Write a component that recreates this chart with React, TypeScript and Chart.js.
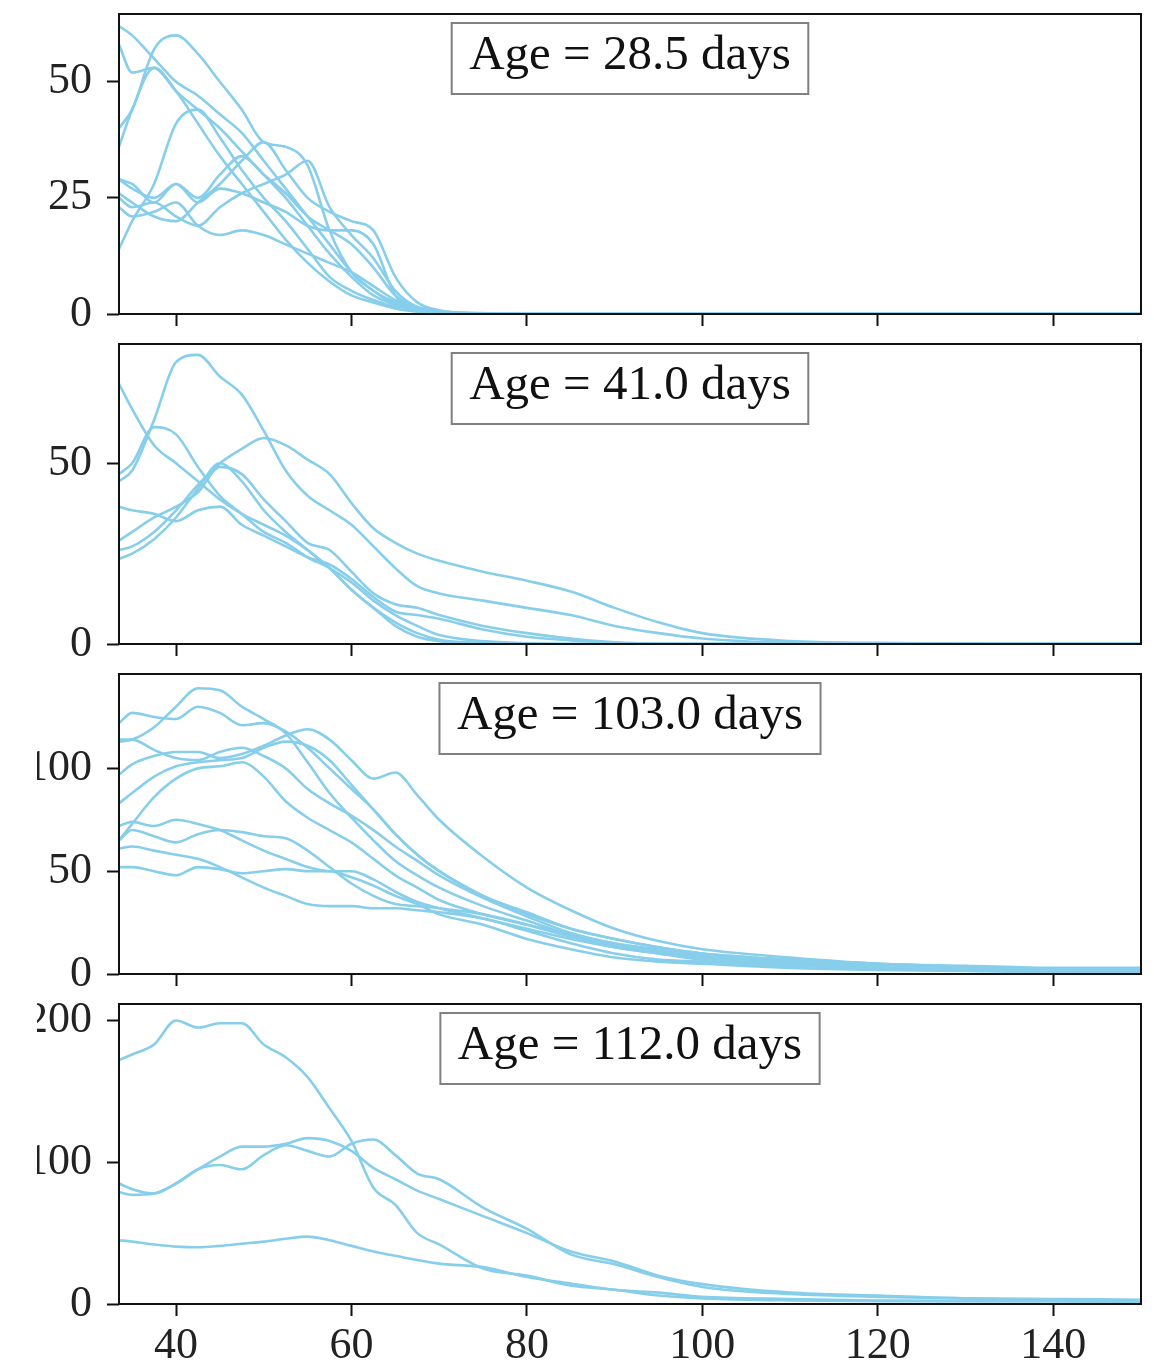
import React, { useEffect, useRef } from "react";
import { Chart, registerables } from "chart.js";

Chart.register(...registerables);

// ---------- data ----------
const X_GRID = [33.5, 35, 37.5, 40, 42.5, 45, 47.5, 50, 52.5, 55, 57.5, 60, 62.5, 65, 67.5, 70, 75, 80, 85, 90, 95, 100, 110, 120, 130, 140, 150];
const X_TICKS = [40, 60, 80, 100, 120, 140];
const X_MIN = 33.5;
const X_MAX = 150;

const AGE_LABELS = ["Age = 28.5 days", "Age = 41.0 days", "Age = 103.0 days", "Age = 112.0 days"];
const Y_MAXES = [64.6, 83, 145.9, 211.6];
const Y_TICKS_A = [0, 25, 50];
const Y_TICKS_B = [0, 50];
const Y_TICKS_C = [0, 50, 100];
const Y_TICKS_D = [0, 100, 200];

// Age = 28.5 days
const P1_A = [62, 60, 55, 50, 47, 43, 39, 33, 27, 21, 15, 9, 5, 2.5, 1, 0.5, 0.1, 0, 0, 0, 0, 0, 0, 0, 0, 0, 0];
const P1_B = [58, 52, 53, 48, 44, 40, 35, 30, 25, 19, 13, 8, 4, 2, 1, 0.3, 0.1, 0, 0, 0, 0, 0, 0, 0, 0, 0, 0];
const P1_C = [40, 44, 57, 60, 56, 50, 44, 37, 36, 32, 18, 9, 5, 2, 1, 0.3, 0, 0, 0, 0, 0, 0, 0, 0, 0, 0, 0];
const P1_D = [36, 44, 53, 48, 41, 34, 28, 22, 16, 11, 7, 4, 2.5, 1.2, 0.5, 0.2, 0, 0, 0, 0, 0, 0, 0, 0, 0, 0, 0];
const P1_E = [14, 20, 28, 41, 44, 38, 31, 25, 20, 14, 8, 5, 3, 1.5, 0.6, 0.2, 0, 0, 0, 0, 0, 0, 0, 0, 0, 0, 0];
const P1_F = [29, 28, 24, 28, 24, 27, 26, 24, 22, 19, 18, 18, 15, 4, 1, 0.4, 0, 0, 0, 0, 0, 0, 0, 0, 0, 0, 0];
const P1_G = [26, 24, 21, 20, 24, 28, 33, 37, 31, 25, 22, 20, 18, 8, 2.5, 0.8, 0.1, 0, 0, 0, 0, 0, 0, 0, 0, 0, 0];
const P1_H = [25, 23, 24, 21, 19, 23, 26, 28, 30, 33, 23, 17, 12, 5, 1.5, 0.5, 0, 0, 0, 0, 0, 0, 0, 0, 0, 0, 0];
const P1_I = [23, 21, 22, 24, 19, 17, 18, 17, 15, 13, 11, 9, 6, 3, 1.2, 0.4, 0, 0, 0, 0, 0, 0, 0, 0, 0, 0, 0];
const P1_J = [29, 27, 25, 28, 25, 30, 34, 30, 26, 21, 18, 15, 10, 4, 1.5, 0.6, 0.2, 0, 0, 0, 0, 0, 0, 0, 0, 0, 0];

// Age = 41.0 days
const P2_A = [45, 48, 62, 78, 80, 74, 69, 59, 48, 41, 37, 33, 27, 21, 16, 14, 12, 10, 8, 5, 3, 1.5, 0.3, 0.1, 0, 0, 0];
const P2_B = [26, 27, 31, 37, 44, 50, 54, 57, 55, 51, 47, 39, 32, 28, 25, 23, 20, 17.5, 14.5, 10, 6, 3, 0.8, 0.3, 0.1, 0, 0];
const P2_C = [23.6, 25, 29, 35, 43, 50, 45, 37, 31, 26, 21, 15, 10, 5, 2, 0.8, 0.2, 0, 0, 0, 0, 0, 0, 0, 0, 0, 0];
const P2_D = [28.6, 31, 35, 38, 42, 49, 47, 40, 34, 28, 26, 20, 14, 11, 10, 8, 5, 3, 1.5, 0.5, 0.1, 0, 0, 0, 0, 0, 0];
const P2_E = [72, 65, 55, 50, 45, 40, 36, 33, 30, 26, 21, 15, 10, 6, 3, 1.2, 0.3, 0, 0, 0, 0, 0, 0, 0, 0, 0, 0];
const P2_F = [47, 50, 60, 58, 49, 41, 36, 31, 28, 24, 21, 17, 12, 8, 5, 2.5, 0.8, 0.2, 0, 0, 0, 0, 0, 0, 0, 0, 0];
const P2_G = [38, 37, 36, 34, 37, 38, 33, 30, 27, 24, 22, 18, 13, 9, 8, 7, 4, 2, 1, 0.3, 0, 0, 0, 0, 0, 0, 0];

// Age = 103.0 days
const P3_A = [113, 114, 120, 130, 139, 138, 130, 124, 117, 103, 88, 76, 65, 55, 48, 42, 33, 26, 19, 14, 11, 9, 6, 4, 3, 2, 2];
const P3_B = [122, 127, 125, 124, 130, 127, 121, 122, 118, 110, 100, 90, 80, 68, 58, 50, 38, 30, 22, 17, 13, 10, 7, 5, 3.5, 2.5, 2.5];
const P3_C = [97, 102, 106, 108, 108, 105, 107, 111, 116, 119, 114, 104, 95, 98, 87, 75, 57, 42, 31, 22, 16, 12, 8, 5, 4, 3, 3];
const P3_D = [114, 114, 109, 105, 104, 108, 110, 106, 100, 90, 83, 77, 70, 62, 55, 48, 37, 28, 20, 15, 12, 9, 6, 4, 3, 2, 2];
const P3_E = [83, 88, 96, 101, 103, 104, 105, 110, 113, 111, 104, 92, 80, 68, 58, 50, 38, 29, 22, 17, 13, 10, 7, 5, 3.5, 2.5, 2.5];
const P3_F = [65, 73, 86, 95, 100, 101, 103, 96, 84, 76, 70, 64, 56, 48, 42, 36, 29, 24, 19, 14, 11, 8, 5, 3.5, 2.5, 2, 2];
const P3_G = [72, 74, 72, 75, 73, 70, 65, 60, 56, 52, 50, 50, 46, 40, 35, 32, 27, 22, 17, 13, 10, 8, 5, 3.5, 2.5, 2, 2];
const P3_H = [65, 70, 67, 64, 68, 70, 69, 67, 66, 60, 52, 44, 38, 34, 33, 32, 29, 24, 18, 13, 10, 7, 5, 3, 2.5, 2, 2];
const P3_I = [61, 62, 60, 58, 56, 52, 47, 42, 38, 34, 33, 33, 32, 32, 31, 30, 27, 21, 15, 10, 7, 6, 4, 3, 2, 1.5, 1.5];
const P3_J = [52, 52, 50, 48, 52, 51, 49, 50, 51, 50, 50, 47, 43, 38, 34, 29, 24, 17, 12, 8, 6, 5, 3, 2, 1.5, 1, 1];

// Age = 112.0 days
const P4_A = [172, 176, 183, 200, 195, 198, 198, 183, 174, 160, 138, 115, 82, 70, 50, 42, 25, 20, 13, 10, 6, 4, 2.5, 2, 2, 2, 1.5];
const P4_B = [85, 81, 78, 85, 95, 104, 111, 111, 113, 117, 115, 108, 96, 88, 80, 74, 62, 50, 37, 30, 20, 14, 8, 6, 4, 3.5, 3];
const P4_C = [79, 77, 78, 85, 95, 98, 95, 105, 112, 108, 104, 113, 116, 105, 92, 88, 68, 53, 35, 28, 19, 12, 7, 5, 4, 3, 2.5];
const P4_D = [45, 44, 42, 40.5, 40, 41, 42.5, 44, 46, 47.5, 45, 41, 37, 34, 31, 28.5, 26, 19, 14.5, 10, 8, 5, 3.5, 2.5, 2, 2, 1.5];

const PANELS = [
  { label: AGE_LABELS[0], yMax: Y_MAXES[0], yTicks: Y_TICKS_A, series: [P1_A, P1_B, P1_C, P1_D, P1_E, P1_F, P1_G, P1_H, P1_I, P1_J] },
  { label: AGE_LABELS[1], yMax: Y_MAXES[1], yTicks: Y_TICKS_B, series: [P2_A, P2_B, P2_C, P2_D, P2_E, P2_F, P2_G] },
  { label: AGE_LABELS[2], yMax: Y_MAXES[2], yTicks: Y_TICKS_C, series: [P3_A, P3_B, P3_C, P3_D, P3_E, P3_F, P3_G, P3_H, P3_I, P3_J] },
  { label: AGE_LABELS[3], yMax: Y_MAXES[3], yTicks: Y_TICKS_D, series: [P4_A, P4_B, P4_C, P4_D] },
];

// ---------- layout / style ----------
const PAGE_W = 1154;
const PAGE_H = 1372;
const CLIP_LEFT = 37;
const CANVAS_W = PAGE_W - CLIP_LEFT;
const PANEL_TOPS = [14, 344, 674, 1004];
const PLOT_H = 300;
const PAD_TOP = 10;
const YAXIS_W = 82;
const PAD_RIGHT = 13;
const XAXIS_H_INNER = 24;
const FONT_FAMILY = "'Liberation Serif', 'Times New Roman', serif";
const TICK_FONT_PX = 44;
const LEGEND_FONT_PX = 49;
const BOX_PAD_X = 17.5;
const BOX_H = 71;
const BOX_OFFSET_Y = 9;
const BOX_BASELINE = 46;
const LINE_COLOR = "rgb(135, 206, 235)";
const AXIS_COLOR = "#111111";
const TEXT_COLOR = "#222222";

const panelDecor = {
  id: "panelDecor",
  afterDraw(chart: any, _args: any, opts: any) {
    const { ctx, chartArea: a } = chart;
    ctx.save();
    ctx.strokeStyle = AXIS_COLOR;
    ctx.lineWidth = 2;
    ctx.strokeRect(a.left, a.top, a.right - a.left, a.bottom - a.top);
    ctx.font = `${LEGEND_FONT_PX}px ${FONT_FAMILY}`;
    const text = opts.text as string;
    const w = ctx.measureText(text).width;
    const bw = w + 2 * BOX_PAD_X;
    const cx = (a.left + a.right) / 2;
    const bx = cx - bw / 2;
    const by = a.top + BOX_OFFSET_Y;
    ctx.fillStyle = "#ffffff";
    ctx.fillRect(bx, by, bw, BOX_H);
    ctx.strokeStyle = "#808080";
    ctx.lineWidth = 2;
    ctx.strokeRect(bx, by, bw, BOX_H);
    ctx.fillStyle = AXIS_COLOR;
    ctx.textAlign = "center";
    ctx.textBaseline = "alphabetic";
    ctx.fillText(text, cx, by + BOX_BASELINE);
    ctx.restore();
  },
};

function Panel({ index }: { index: number }) {
  const ref = useRef<HTMLCanvasElement>(null);
  const p = PANELS[index];
  const last = index === PANELS.length - 1;
  const top = PANEL_TOPS[index] - PAD_TOP;
  const h = last ? PAGE_H - top : PAD_TOP + PLOT_H + XAXIS_H_INNER;
  const xAxisH = h - PAD_TOP - PLOT_H;

  useEffect(() => {
    const canvas = ref.current!;
    const chart = new Chart(canvas, {
      type: "line",
      data: {
        datasets: p.series.map((ys) => ({
          data: X_GRID.map((x, j) => ({ x, y: ys[j] })),
          borderColor: LINE_COLOR,
          borderWidth: 2.6,
          pointRadius: 0,
          fill: false,
          cubicInterpolationMode: "monotone" as const,
        })),
      },
      options: {
        animation: false,
        responsive: false,
        maintainAspectRatio: false,
        events: [],
        layout: { padding: { top: PAD_TOP, right: PAD_RIGHT, left: 0, bottom: 0 } },
        plugins: {
          legend: { display: false },
          tooltip: { enabled: false },
          title: { display: false },
          panelDecor: { text: p.label },
        } as any,
        scales: {
          x: {
            type: "linear",
            min: X_MIN,
            max: X_MAX,
            afterBuildTicks: (s: any) => {
              s.ticks = X_TICKS.map((v) => ({ value: v }));
            },
            afterFit: (s: any) => {
              s.height = xAxisH;
              s.paddingLeft = 0;
              s.paddingRight = 0;
              s.paddingTop = 0;
              s.paddingBottom = 0;
            },
            ticks: {
              display: last,
              autoSkip: false,
              maxRotation: 0,
              padding: 4,
              color: TEXT_COLOR,
              font: { family: FONT_FAMILY, size: TICK_FONT_PX },
            },
            grid: {
              display: true,
              drawOnChartArea: false,
              drawTicks: true,
              tickLength: 12,
              tickWidth: 2,
              tickColor: AXIS_COLOR,
            },
            border: { display: false },
          },
          y: {
            type: "linear",
            min: 0,
            max: p.yMax,
            afterBuildTicks: (s: any) => {
              s.ticks = p.yTicks.map((v) => ({ value: v }));
            },
            afterFit: (s: any) => {
              s.width = YAXIS_W;
              s.paddingLeft = 0;
              s.paddingRight = 0;
              s.paddingTop = 0;
              s.paddingBottom = 0;
            },
            ticks: {
              padding: 15,
              color: TEXT_COLOR,
              font: { family: FONT_FAMILY, size: TICK_FONT_PX },
            },
            grid: {
              display: true,
              drawOnChartArea: false,
              drawTicks: true,
              tickLength: 12,
              tickWidth: 2,
              tickColor: AXIS_COLOR,
            },
            border: { display: false },
          },
        },
      },
      plugins: [panelDecor],
    } as any);
    return () => chart.destroy();
  }, []);

  return (
    <canvas
      ref={ref}
      width={CANVAS_W}
      height={h}
      style={{ position: "absolute", left: CLIP_LEFT, top, width: CANVAS_W, height: h, display: "block" }}
    />
  );
}

export default function App() {
  return (
    <div style={{ position: "absolute", left: 0, top: 0, width: PAGE_W, height: PAGE_H, background: "#ffffff", overflow: "hidden" }}>
      {PANELS.map((_, i) => (
        <Panel key={i} index={i} />
      ))}
    </div>
  );
}
